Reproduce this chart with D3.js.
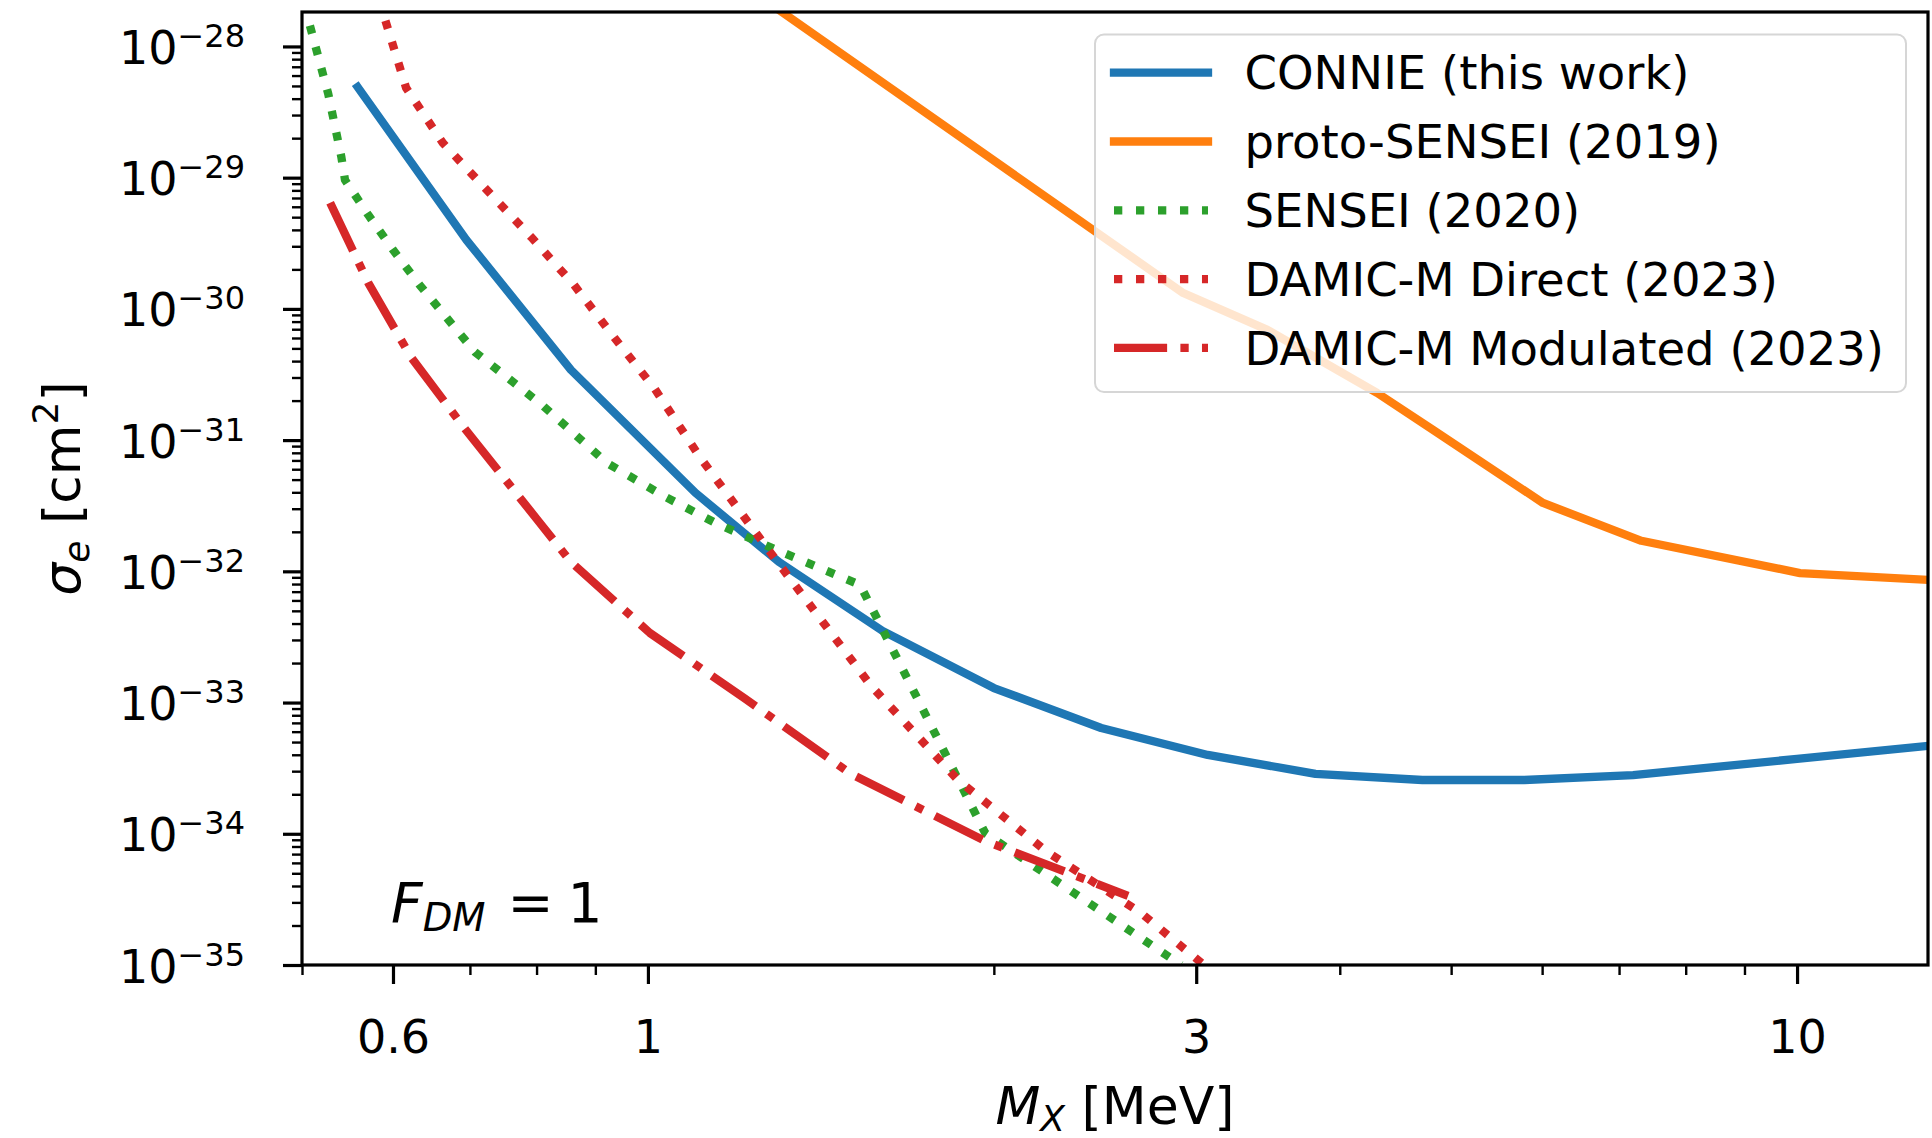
<!DOCTYPE html>
<html>
<head>
<meta charset="utf-8">
<script src="https://cdn.jsdelivr.net/npm/d3@7"></script>
<style>
html, body { margin: 0; padding: 0; background: #ffffff; }
svg { display: block; }
text { font-family: "DejaVu Sans", sans-serif; fill: #000; }
</style>
</head>
<body>
<svg id="chart" width="1932" height="1138"></svg>
<script>
// ---------------- DATA ----------------
const seriesNames = ["CONNIE (this work)", "proto-SENSEI (2019)", "SENSEI (2020)",
                     "DAMIC-M Direct (2023)", "DAMIC-M Modulated (2023)"];

const connieMass  = [0.559, 0.695, 0.857, 1.10, 1.30, 1.60, 2.00, 2.48, 3.07, 3.81, 4.72, 5.79, 7.20, 10.0, 13.0];
const connieSigma = [4.9e-29, 3.36e-30, 3.43e-31, 3.96e-32, 1.18e-32, 3.52e-33, 1.29e-33, 6.4e-34, 3.99e-34,
                     2.86e-34, 2.57e-34, 2.57e-34, 2.8e-34, 3.72e-34, 4.67e-34];

const protoMass  = [1.30, 2.923, 3.46, 4.31, 4.82, 6.01, 7.32, 10.06, 13.0];
const protoSigma = [1.9e-28, 1.32e-30, 6.92e-31, 2.29e-31, 1.2e-31, 3.32e-32, 1.71e-32, 9.7e-33, 8.6e-33];

const senseiMass  = [0.508, 0.527, 0.541, 0.545, 0.571, 0.600, 0.633, 0.707, 0.809, 0.921, 1.035, 1.149,
                     1.277, 1.53, 1.966, 2.91];
const senseiSigma = [1.44e-28, 4.35e-29, 1.44e-29, 9.6e-30, 5.2e-30, 2.82e-30, 1.52e-30, 4.7e-31, 1.85e-31,
                     6.7e-32, 3.7e-32, 2.3e-32, 1.53e-32, 7.87e-33, 1.01e-34, 1.0e-35];

const damicDirectMass  = [0.591, 0.616, 0.663, 0.724, 0.791, 0.8625, 0.934, 1.0125, 1.11, 1.30, 1.564, 1.861,
                          2.226, 2.686, 3.06];
const damicDirectSigma = [1.57e-28, 4.83e-29, 1.84e-29, 8.07e-30, 3.54e-30, 1.52e-30, 6.1e-31, 2.5e-31, 7.4e-32,
                          1.14e-32, 1.34e-33, 2.57e-34, 7.26e-35, 2.49e-35, 9.7e-36];

const damicModMass  = [0.529, 0.571, 0.622, 0.692, 0.799, 0.857, 1.004, 1.213, 1.502, 1.966, 2.617];
const damicModSigma = [6.43e-30, 1.58e-30, 4.3e-31, 1.24e-31, 2.55e-32, 1.18e-32, 3.39e-33, 1.08e-33, 2.86e-34,
                       8.8e-35, 3.36e-35];

const xDomain = [0.5, 13];
const yDomain = [1e-35, 1.83e-28];
const xMajorTicks  = [0.6, 1, 3, 10];
const xMajorLabels = ["0.6", "1", "3", "10"];
const xMinorTicks  = [0.5, 0.7, 0.8, 0.9, 2, 4, 5, 6, 7, 8, 9];
const yMajorExponents = [-35, -34, -33, -32, -31, -30, -29, -28];

// ---------------- LAYOUT ----------------
const W = 1932, H = 1138;
const P = { left: 302, right: 1928, top: 12, bottom: 965 };
const LW = 8.3;

const svg = d3.select("#chart");
svg.append("rect").attr("width", W).attr("height", H).attr("fill", "#fff");

const x = d3.scaleLog().domain(xDomain).range([P.left, P.right]);
const y = d3.scaleLog().domain(yDomain).range([P.bottom, P.top]);

const styles = [
  { color: "#1f77b4", dash: null },
  { color: "#ff7f0e", dash: null },
  { color: "#2ca02c", dash: [LW, 1.65 * LW] },
  { color: "#d62728", dash: [LW, 1.65 * LW] },
  { color: "#d62728", dash: [6.4 * LW, 1.6 * LW, LW, 1.6 * LW] }
];
const masses = [connieMass, protoMass, senseiMass, damicDirectMass, damicModMass];
const sigmas = [connieSigma, protoSigma, senseiSigma, damicDirectSigma, damicModSigma];
const series = seriesNames.map((n, i) => ({
  name: n,
  points: masses[i].map((m, j) => [m, sigmas[i][j]]),
  color: styles[i].color,
  dash: styles[i].dash
}));

svg.append("defs").append("clipPath").attr("id", "plotclip")
  .append("rect").attr("x", P.left).attr("y", P.top)
  .attr("width", P.right - P.left).attr("height", P.bottom - P.top);

const line = d3.line().x(d => x(d[0])).y(d => y(d[1]));

const plot = svg.append("g").attr("clip-path", "url(#plotclip)");
series.forEach(s => {
  plot.append("path")
    .attr("d", line(s.points))
    .attr("fill", "none")
    .attr("stroke", s.color)
    .attr("stroke-width", LW)
    .attr("stroke-linejoin", "round")
    .attr("stroke-linecap", s.dash ? "butt" : "square")
    .attr("stroke-dasharray", s.dash ? s.dash.join(",") : null);
});

// ---------------- AXES ----------------
const fontSize = 46;
const labelSize = 52;

// x minor
svg.append("g").attr("transform", `translate(0,${P.bottom})`)
  .call(d3.axisBottom(x).tickValues(xMinorTicks).tickSize(10).tickFormat(() => ""))
  .call(g => g.select(".domain").remove())
  .call(g => g.selectAll("line").attr("stroke", "#000").attr("stroke-width", 2.4));

// x major
svg.append("g").attr("transform", `translate(0,${P.bottom})`)
  .call(d3.axisBottom(x).tickValues(xMajorTicks).tickSize(19).tickPadding(36)
        .tickFormat(d => xMajorLabels[xMajorTicks.indexOf(d)]))
  .attr("font-size", fontSize).attr("font-family", "DejaVu Sans")
  .call(g => g.select(".domain").remove())
  .call(g => g.selectAll("line").attr("stroke", "#000").attr("stroke-width", 3.2))
  .call(g => g.selectAll("text").attr("fill", "#000"));

// y minor
const yMinorTicks = [];
yMajorExponents.forEach(e => {
  for (let k = 2; k <= 9; k++) {
    const v = k * Math.pow(10, e);
    if (v >= yDomain[0] && v <= yDomain[1]) yMinorTicks.push(v);
  }
});
svg.append("g").attr("transform", `translate(${P.left},0)`)
  .call(d3.axisLeft(y).tickValues(yMinorTicks).tickSize(10).tickFormat(() => ""))
  .call(g => g.select(".domain").remove())
  .call(g => g.selectAll("line").attr("stroke", "#000").attr("stroke-width", 2.4));

// y major
const yAxisG = svg.append("g").attr("transform", `translate(${P.left},0)`)
  .call(d3.axisLeft(y).tickValues(yMajorExponents.map(e => Math.pow(10, e))).tickSize(19).tickFormat(() => ""))
  .call(g => g.select(".domain").remove())
  .call(g => g.selectAll("line").attr("stroke", "#000").attr("stroke-width", 3.2));
yAxisG.selectAll(".tick").each(function(d, i) {
  const e = yMajorExponents[i];
  const t = d3.select(this).append("text")
    .attr("x", -57).attr("y", 17)
    .attr("text-anchor", "end")
    .attr("font-size", fontSize)
    .attr("font-family", "DejaVu Sans")
    .attr("fill", "#000");
  t.append("tspan").text("10");
  t.append("tspan").attr("dy", -17).attr("font-size", 32).text("\u2212" + Math.abs(e));
});

// frame
svg.append("rect")
  .attr("x", P.left).attr("y", P.top)
  .attr("width", P.right - P.left).attr("height", P.bottom - P.top)
  .attr("fill", "none").attr("stroke", "#000").attr("stroke-width", 3.2);

// axis labels
const xl = svg.append("text")
  .attr("x", (P.left + P.right) / 2).attr("y", 1124)
  .attr("text-anchor", "middle").attr("font-size", labelSize);
xl.append("tspan").attr("font-style", "italic").text("M");
xl.append("tspan").attr("font-style", "italic").attr("font-size", 36).attr("dy", 7).text("X");
xl.append("tspan").attr("dy", -7).text(" [MeV]");

const yl = svg.append("text")
  .attr("transform", `translate(80,${(P.top + P.bottom) / 2}) rotate(-90)`)
  .attr("text-anchor", "middle").attr("font-size", labelSize);
yl.append("tspan").attr("font-style", "italic").text("σ");
yl.append("tspan").attr("font-style", "italic").attr("font-size", 36).attr("dy", 9).text("e");
yl.append("tspan").attr("dy", -9).text(" [cm");
yl.append("tspan").attr("font-size", 36).attr("dy", -22).text("2");
yl.append("tspan").attr("dy", 22).text("]");

// annotation
const ann = svg.append("text").attr("x", 391).attr("y", 922).attr("font-size", 55);
ann.append("tspan").attr("font-style", "italic").text("F");
ann.append("tspan").attr("font-style", "italic").attr("font-size", 38.5).attr("dy", 9).text("DM");
ann.append("tspan").attr("dy", -9).attr("dx", 22).text("=");
ann.append("tspan").attr("dx", 14).text("1");

// ---------------- LEGEND ----------------
const leg = svg.append("g");
leg.append("rect")
  .attr("x", 1095).attr("y", 34.5).attr("width", 811).attr("height", 357.5)
  .attr("rx", 9).attr("ry", 9)
  .attr("fill", "#fff").attr("fill-opacity", 0.8)
  .attr("stroke", "#d6d6d6").attr("stroke-width", 2);
series.forEach((s, i) => {
  const cy = 72.7 + i * 68.8;
  leg.append("line")
    .attr("x1", 1114).attr("x2", 1208).attr("y1", cy).attr("y2", cy)
    .attr("stroke", s.color).attr("stroke-width", LW)
    .attr("stroke-linecap", s.dash ? "butt" : "square")
    .attr("stroke-dasharray", s.dash ? s.dash.join(",") : null);
  leg.append("text")
    .attr("x", 1244.5).attr("y", cy + 16.6)
    .attr("font-size", 46.5)
    .text(s.name);
});
</script>
</body>
</html>
